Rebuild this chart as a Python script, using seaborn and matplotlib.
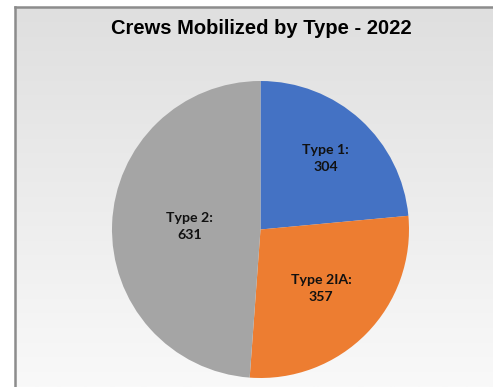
import numpy as np
import matplotlib
matplotlib.use("Agg")
from matplotlib import pyplot as plt
import seaborn as sns

# data
types = ["Type 1", "Type 2IA", "Type 2"]
crews = [304, 357, 631]
colors = ["#4472C4", "#ED7D31", "#A5A5A5"]
title = "Crews Mobilized by Type - 2022"

sns.set_style("white")

W, H = 493, 387
fig = plt.figure(figsize=(W / 100, H / 100), dpi=100)
fig.patch.set_facecolor("white")

# chart area background (gradient) with border on left / top
bg = fig.add_axes([15 / W, 0, 1 - 15 / W, 1 - 7 / H])
grad = np.linspace(0, 1, 256).reshape(-1, 1)
bg.imshow(grad, aspect="auto", cmap=sns.blend_palette(["#dfdfdf", "#f9f9f9"], as_cmap=True),
          extent=[0, 1, 0, 1], origin="upper")
bg.set_xlim(0, 1)
bg.set_ylim(0, 1)
bg.set_xticks([])
bg.set_yticks([])
for side in ["right", "bottom"]:
    bg.spines[side].set_visible(False)
for side in ["left", "top"]:
    bg.spines[side].set_color("#8c8c8c")
    bg.spines[side].set_linewidth(1.8)

# pie
cx, cy, r = 260.5, 229.5, 148.5
ax = fig.add_axes([(cx - r) / W, 1 - (cy + r) / H, 2 * r / W, 2 * r / H])
ax.patch.set_alpha(0)
wedges, _ = ax.pie(crews, colors=colors, startangle=90, counterclock=False,
                   radius=1, wedgeprops=dict(linewidth=0))
ax.set_xlim(-1, 1)
ax.set_ylim(-1, 1)
ax.axis("off")

label_dist = [0.65, 0.57, 0.48]
for w, name, val, d in zip(wedges, types, crews, label_dist):
    ang = np.deg2rad((w.theta1 + w.theta2) / 2)
    ax.text(d * np.cos(ang), d * np.sin(ang), f"{name}:\n{val}",
            ha="center", va="center", fontsize=10.2, fontweight="bold",
            family="Lato", color="#111111", linespacing=1.5)

fig.text(261 / W, 1 - 29 / H, title, ha="center", va="center",
         fontsize=14.5, fontweight="bold", family="Liberation Sans", color="black")

fig.savefig("out.png", dpi=100)
